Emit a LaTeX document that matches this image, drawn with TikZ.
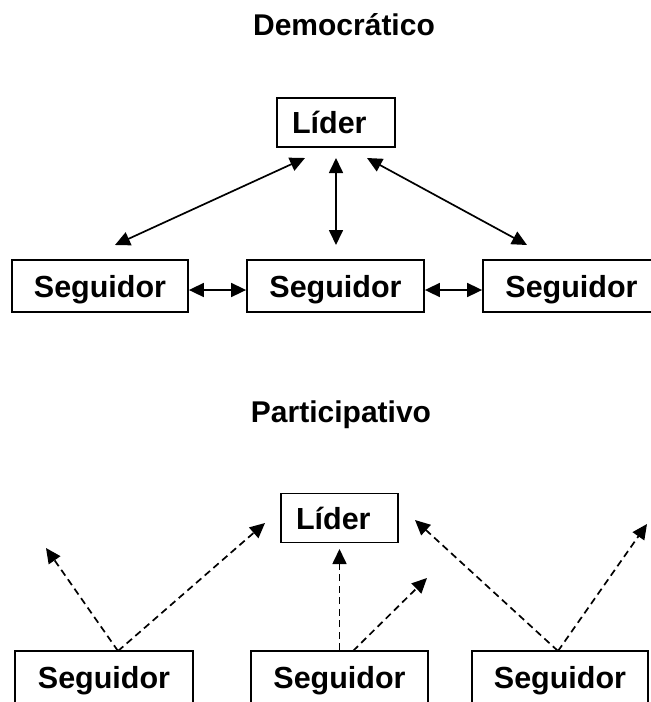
\documentclass[tikz,border=0pt]{standalone}
\usepackage{fontspec}
\setmainfont{Liberation Sans}
\usetikzlibrary{arrows.meta}
\begin{document}
\begin{tikzpicture}[x=1pt,y=-1pt,
  box/.style={draw, line width=1.8pt, inner sep=0pt, font=\fontsize{30.5}{36}\selectfont\bfseries, text depth=0pt},
  liderbox/.style={box, minimum height=49pt, text width=88pt, inner xsep=15pt, align=left},
  segbox/.style={box, minimum height=52pt},
  titletext/.style={font=\fontsize{30}{36}\selectfont\bfseries, anchor=base, inner sep=0pt},
  solidarrow/.style={line width=1.7pt, {Triangle[length=15pt,width=14pt]}-{Triangle[length=15pt,width=14pt]}},
  dasharrow/.style={line width=1.7pt, dash pattern=on 7pt off 4.5pt, -{Triangle[length=15pt,width=14pt]}}]

\useasboundingbox (0,0) rectangle (651,702);

% ---------- Democratico ----------
\node[titletext] (t1) at (344,35) {Democrático};
\node[liderbox] (l1) at (336,122.5) {Líder};
\node[segbox, minimum width=176pt] (s1) at (100,286) {Seguidor};
\node[segbox, minimum width=177pt] (s2) at (335.5,286) {Seguidor};
\node[segbox, minimum width=177pt] (s3) at (571.5,286) {Seguidor};

\coordinate (u1a) at (305,158);
\coordinate (u1b) at (115,245);
\coordinate (u2a) at (336,158);
\coordinate (u2b) at (336,245);
\coordinate (u3a) at (367,158);
\coordinate (u3b) at (527,245);
\draw[solidarrow] (u1a) -- (u1b);
\draw[solidarrow] (u2a) -- (u2b);
\draw[solidarrow] (u3a) -- (u3b);
\draw[solidarrow] (s1.east |- 0,290) -- (s2.west |- 0,290);
\draw[solidarrow] (s2.east |- 0,290) -- (s3.west |- 0,290);

% ---------- Participativo ----------
\node[titletext] (t2) at (341,422) {Participativo};
\node[liderbox, text width=87pt] (l2) at (339.5,518) {Líder};
\node[segbox, minimum width=178pt] (r1) at (104,677) {Seguidor};
\node[segbox, minimum width=177pt] (r2) at (339.5,677) {Seguidor};
\node[segbox, minimum width=176pt] (r3) at (560,677) {Seguidor};

\coordinate (p1) at (118,651);
\coordinate (p2) at (353,651);
\coordinate (p3) at (558,651);
\coordinate (e1) at (46,548);
\coordinate (e2) at (265,523);
\coordinate (e3) at (339.5,549);
\coordinate (e4) at (427,578);
\coordinate (e5) at (415,520);
\coordinate (e6) at (647,524);
\draw[dasharrow] (p1) -- (e1);
\draw[dasharrow] (p1) -- (e2);
\draw[dasharrow] (r2.north) -- (e3);
\draw[dasharrow] (p2) -- (e4);
\draw[dasharrow] (p3) -- (e5);
\draw[dasharrow] (p3) -- (e6);
\end{tikzpicture}
\end{document}
